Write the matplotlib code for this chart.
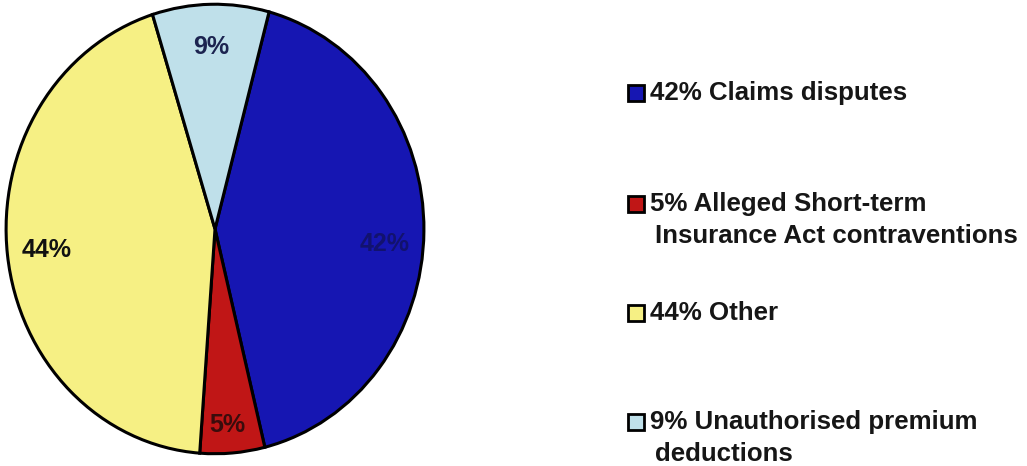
import matplotlib
matplotlib.use("Agg")
import matplotlib.pyplot as plt
from matplotlib.patches import Rectangle

plt.rcParams["font.family"] = ["Liberation Sans", "DejaVu Sans"]

# Complaint categories (clockwise from the top)
categories = ["Claims disputes",
              "Alleged Short-term\nInsurance Act contraventions",
              "Other",
              "Unauthorised premium\ndeductions"]
shares = [42, 5, 44, 9]
colors = ["#1616b2", "#c01616", "#f6f084", "#bfe0ea"]
pct_colors = ["#12126e", "#3a0c0c", "#111111", "#1c2450"]

fig = plt.figure(figsize=(10.27, 4.66), dpi=100)
fig.patch.set_facecolor("white")

# pie drawn slightly taller than wide
ax = fig.add_axes([4 / 1027, 10 / 466, 422 / 1027, 454 / 466])
wedges, texts, autotexts = ax.pie(
    shares,
    colors=colors,
    startangle=75,
    counterclock=False,
    autopct="%d%%",
    pctdistance=0.81,
    wedgeprops=dict(edgecolor="black", linewidth=2.2),
    textprops=dict(fontsize=18, fontweight="bold"),
)
for t, c in zip(autotexts, pct_colors):
    t.set_color(c)
# the small red slice carries its label closer to the rim
x5, y5 = autotexts[1].get_position()
autotexts[1].set_position((x5 * 0.9, y5 * 1.08))
x42, y42 = autotexts[0].get_position()
autotexts[0].set_position((x42, y42 - 0.06))
ax.set_aspect("auto")
ax.set_xlim(-1.01, 1.01)
ax.set_ylim(-1.01, 1.01)

# legend built by hand: square beside the first line of each entry
W, H = 1027, 466
entry_y = [93, 204, 313, 422]
line_gap = 32
for lab, share, col, y in zip(categories, shares, colors, entry_y):
    fig.patches.append(Rectangle((628 / W, 1 - (y + 8) / H), 16 / W, 16 / H,
                                 transform=fig.transFigure, facecolor=col,
                                 edgecolor="black", linewidth=2))
    lines = f"{share}% {lab}".split("\n")
    for i, line in enumerate(lines):
        x = 650 if i == 0 else 655
        fig.text(x / W, 1 - (y + i * line_gap) / H, line, fontsize=18.6,
                 fontweight="bold", color="#161616", va="center", ha="left")

fig.savefig("out.png", dpi=100, facecolor="white")
